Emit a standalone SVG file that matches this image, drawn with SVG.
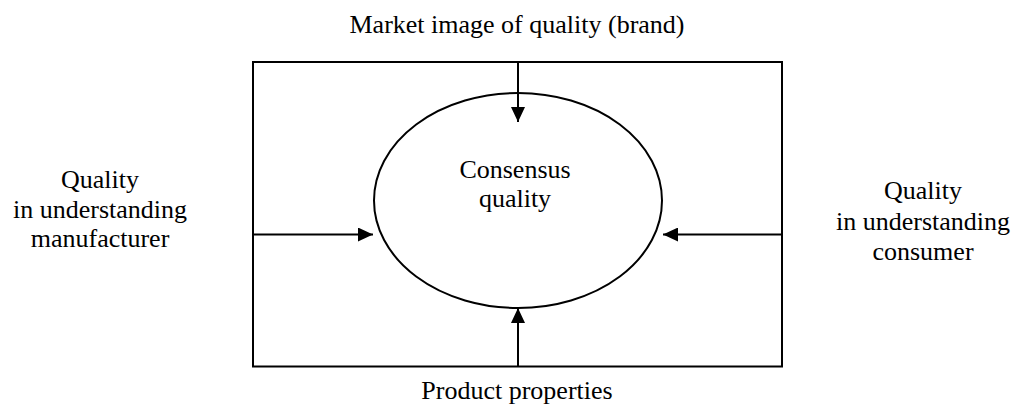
<svg xmlns="http://www.w3.org/2000/svg" width="1014" height="406" viewBox="0 0 1014 406">
  <style>
    .line { stroke: #000; stroke-width: 2; fill: none; }
    .lbl { font-family: "Liberation Serif", "Times New Roman", serif; font-size: 26px; fill: #000; text-anchor: middle; }
  </style>
  <defs>
    <marker id="arrow" viewBox="0 0 15 14" refX="15" refY="7" markerWidth="15" markerHeight="14" markerUnits="userSpaceOnUse" orient="auto">
      <path d="M0,0 L15,7 L0,14 Z" fill="#000"/>
    </marker>
  </defs>
  <rect width="1014" height="406" fill="#fff"/>

  <!-- outer frame -->
  <g id="frame">
    <rect class="line" x="253" y="62" width="529" height="304.5"/>
  </g>

  <!-- central ellipse -->
  <g id="consensus">
    <ellipse class="line" cx="518" cy="200.5" rx="144" ry="107.5"/>
    <text class="lbl" x="515" y="178">Consensus</text>
    <text class="lbl" x="515" y="207">quality</text>
  </g>

  <g id="brand">
    <text class="lbl" x="517" y="33">Market image of quality (brand)</text>
  </g>

  <g id="manufacturer">
    <text class="lbl" x="100" y="188">Quality</text>
    <text class="lbl" x="100" y="218">in understanding</text>
    <text class="lbl" x="100" y="247">manufacturer</text>
  </g>

  <g id="consumer">
    <text class="lbl" x="923" y="199">Quality</text>
    <text class="lbl" x="923" y="230">in understanding</text>
    <text class="lbl" x="923" y="260">consumer</text>
  </g>

  <g id="properties">
    <text class="lbl" x="517" y="399">Product properties</text>
  </g>

  <!-- influences pointing into the ellipse -->
  <g id="connectors">
    <line class="line" x1="518" y1="62" x2="518" y2="122" marker-end="url(#arrow)"/>
    <line class="line" x1="518" y1="366" x2="518" y2="308" marker-end="url(#arrow)"/>
    <line class="line" x1="253" y1="234.5" x2="373" y2="234.5" marker-end="url(#arrow)"/>
    <line class="line" x1="782" y1="234.5" x2="663" y2="234.5" marker-end="url(#arrow)"/>
  </g>
</svg>
